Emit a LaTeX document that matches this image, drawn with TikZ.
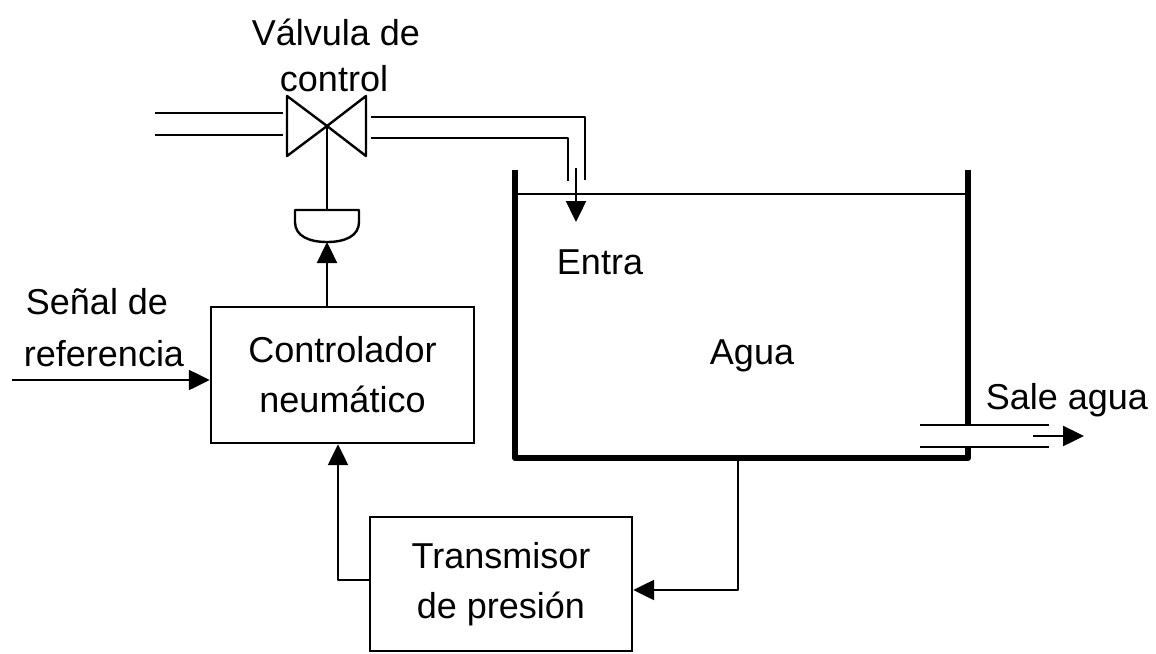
\documentclass[tikz,border=0pt]{standalone}
\usepackage{fontspec}
\setmainfont{Liberation Sans}
\usetikzlibrary{arrows.meta}
\begin{document}
\begin{tikzpicture}[x=1pt,y=-1pt,
  thin line/.style={line width=2.4pt, line join=round},
  tank line/.style={line width=6pt, line join=round},
  arr/.style={thin line, -{Triangle[length=21pt,width=20pt]}},
  box/.style={draw, line width=2.4pt, align=center, inner sep=0pt},
  lbl/.style={align=center, inner sep=0pt, font=\fontsize{36}{50}\selectfont}]
\useasboundingbox (0,0) rectangle (1156,653);

% valve
\coordinate (vc) at (327,126);
\draw[thin line] (287,96) -- (vc) -- (287,156) -- cycle;
\draw[thin line] (366,96) -- (vc) -- (366,156) -- cycle;
% pipes
\draw[thin line] (155,113) -- (283,113);
\draw[thin line] (155,135) -- (283,135);
\draw[thin line] (371,117) -- (585,117) -- (585,180);
\draw[thin line] (371,138) -- (568,138) -- (568,181);
\coordinate (inS) at (576,168);
\coordinate (inE) at (576,222);
\draw[arr] (inS) -- (inE);
% actuator
\coordinate (act) at (327,242);
\draw[thin line] (vc) -- (327,210);
\draw[thin line] (295,210) -- (359,210) -- (359,222) .. controls (359,236) and (345,242) .. (act) .. controls (309,242) and (295,236) .. (295,222) -- cycle;

% tank
\draw[tank line] (515,170) -- (515,458) -- (968,458) -- (968,447);
\draw[tank line] (968,425) -- (968,170);
\draw[line width=2pt] (518,194) -- (965,194);
% outlet
\draw[thin line] (920,425) -- (1049,425);
\draw[line width=1.6pt] (920,447) -- (1049,447);
\coordinate (outS) at (1033,436);
\coordinate (outE) at (1084,436);
\draw[arr] (outS) -- (outE);

% texts
\node[lbl] (vlbl) at (336,32) {Válvula de};
\node[lbl] (vlbl2) at (334,79) {control};
\node[lbl] (entra) at (600,262) {Entra};
\node[lbl] (agua) at (752,356) {Agua};
\node[lbl] (sale) at (1067,400) {Sale agua};
\node[lbl] (sen1) at (97,302) {Señal de};
\node[lbl] (sen2) at (104,354) {referencia};

% boxes
\node[box, minimum width=263pt, minimum height=136pt, font=\fontsize{36}{50}\selectfont] (ctrl) at (342.5,375) {Controlador\\neumático};
\node[box, minimum width=262pt, minimum height=134pt, font=\fontsize{36}{50}\selectfont] (tx) at (501,584) {Transmisor\\de presión};

% connectors
\coordinate (refS) at (12,380);
\draw[arr] (refS) -- (ctrl.west |- refS);
\draw[arr] ([xshift=-15.5pt]ctrl.north) -- (act);
\coordinate (tb) at (738,458);
\draw[arr] (tb) |- ([yshift=-6pt]tx.east);
\draw[arr] ([yshift=4pt]tx.west) -| ([xshift=-4.5pt]ctrl.south);
\end{tikzpicture}
\end{document}
